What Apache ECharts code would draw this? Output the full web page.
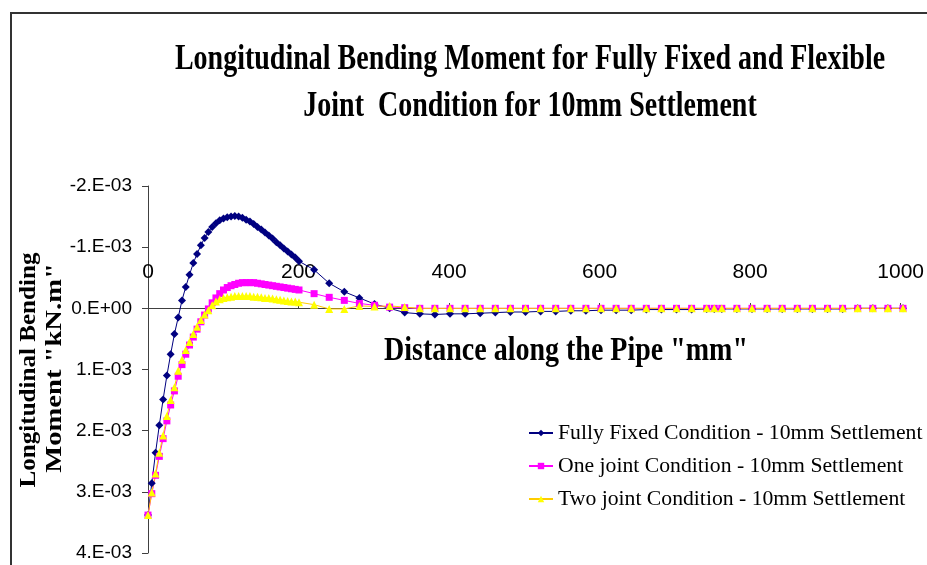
<!DOCTYPE html>
<html>
<head>
<meta charset="utf-8">
<script src="https://cdn.jsdelivr.net/npm/echarts@6/dist/echarts.min.js"></script>
<style>
  html, body { margin: 0; padding: 0; background: #fff; }
  #chart { width: 927px; height: 565px; }
</style>
</head>
<body>
<div id="chart"></div>
<script>
// distance along the pipe (mm)
const distance = [
  0, 5, 10, 15, 20, 25, 30, 35, 40, 45, 50, 55, 60, 65, 70, 75, 80, 85, 90, 95, 100,
  105, 110, 115, 120, 125, 130, 135, 140, 145, 150, 155, 160, 165, 170, 175, 180, 185, 190, 195, 200,
  220, 240, 260, 280, 300, 320, 340, 360, 380, 400, 420, 440, 460, 480, 500,
  520, 540, 560, 580, 600, 620, 640, 660, 680, 700, 720, 740, 750, 760, 780, 800,
  820, 840, 860, 880, 900, 920, 940, 960, 980, 1000
]

// bending moment, in units of 1E-03 kN.m
const fullyFixed = [
  3.38, 2.86, 2.36, 1.91, 1.49, 1.10, 0.75, 0.42, 0.15, -0.13, -0.35, -0.55, -0.74, -0.89, -1.03, -1.15, -1.25, -1.33, -1.39, -1.44, -1.47,
  -1.49, -1.50, -1.51, -1.50, -1.48, -1.45, -1.42, -1.38, -1.33, -1.29, -1.24, -1.19, -1.14, -1.08, -1.03, -0.98, -0.93, -0.88, -0.83, -0.77,
  -0.63, -0.41, -0.27, -0.17, -0.07, 0.00, 0.07, 0.09, 0.10, 0.09, 0.09, 0.08, 0.07, 0.06, 0.06,
  0.05, 0.05, 0.04, 0.04, 0.03, 0.03, 0.03, 0.02, 0.02, 0.02, 0.02, 0.01, 0.01, 0.01, 0.01, 0.01,
  0.01, 0.01, 0.01, 0.01, 0.01, 0.01, 0.00, 0.00, 0.00, 0.00
]

const oneJoint = [
  3.38, 3.03, 2.73, 2.42, 2.13, 1.84, 1.58, 1.35, 1.11, 0.92, 0.75, 0.60, 0.47, 0.34, 0.22, 0.11, 0.01, -0.09, -0.17, -0.24, -0.30,
  -0.34, -0.37, -0.39, -0.41, -0.42, -0.42, -0.42, -0.42, -0.41, -0.40, -0.39, -0.38, -0.37, -0.36, -0.35, -0.34, -0.33, -0.32, -0.31, -0.30,
  -0.24, -0.18, -0.13, -0.08, -0.05, -0.02, -0.01, 0.00, 0.00, 0.00, 0.00, 0.00, 0.00, 0.00, 0.00,
  0.00, 0.00, 0.00, 0.00, 0.00, 0.00, 0.00, 0.00, 0.00, 0.00, 0.00, 0.00, 0.00, 0.00, 0.00, 0.00,
  0.00, 0.00, 0.00, 0.00, 0.00, 0.00, 0.00, 0.00, 0.00, 0.00
]

const twoJoint = [
  3.38, 3.01, 2.70, 2.36, 2.08, 1.76, 1.50, 1.29, 1.02, 0.84, 0.68, 0.55, 0.42, 0.30, 0.19, 0.10, 0.03, -0.05, -0.11, -0.15, -0.17,
  -0.18, -0.19, -0.20, -0.20, -0.20, -0.20, -0.20, -0.19, -0.19, -0.18, -0.17, -0.17, -0.16, -0.15, -0.14, -0.13, -0.12, -0.11, -0.11, -0.10,
  -0.06, 0.01, 0.01, -0.04, -0.03, -0.04, -0.02, 0.00, 0.00, 0.00, 0.00, 0.00, 0.00, 0.00, 0.00,
  0.00, 0.00, 0.00, 0.00, 0.00, 0.00, 0.00, 0.00, 0.00, 0.00, 0.00, 0.00, 0.00, 0.00, 0.00, 0.00,
  0.00, 0.00, 0.00, 0.00, 0.00, 0.00, 0.00, 0.00, 0.00, 0.00
]

const seriesNames = [
  'Fully Fixed Condition - 10mm Settlement',
  'One joint Condition - 10mm Settlement',
  'Two joint Condition - 10mm Settlement'
]

const pairs = (ys) => distance.map((x, i) => [x, ys[i]])

const serif = '"Liberation Serif", "Times New Roman", serif'
const sans = '"Liberation Sans", Arial, sans-serif'

const chart = echarts.init(document.getElementById('chart'))

const boldText = (text, x, y, size, opts) => Object.assign({
  type: 'text',
  x: x,
  y: y,
  silent: true,
  style: {
    text: text,
    font: 'bold ' + size + 'px ' + serif,
    fill: '#000',
    align: 'center',
    verticalAlign: 'middle',
    textAlign: 'center',
    textVerticalAlign: 'middle'
  }
}, opts)

chart.setOption({
  animation: false,
  backgroundColor: '#fff',
  grid: [
    { left: 148, right: 24, top: 186, bottom: 12, containLabel: false },
    // thin grid sitting on the zero line, carries the distance labels above it
    { left: 148, right: 24, top: 308, height: 1, containLabel: false }
  ],
  legend: {
    orient: 'vertical',
    left: 523,
    top: 417,
    itemGap: 11,
    itemWidth: 24,
    itemHeight: 8,
    textStyle: { fontFamily: serif, fontSize: 21.7, color: '#000' },
    data: seriesNames
  },
  xAxis: [
    {
      type: 'value',
      gridIndex: 0,
      min: 0,
      max: 1000,
      interval: 200,
      axisLine: { onZero: true, lineStyle: { color: '#404040', width: 1 } },
      axisTick: { show: false },
      axisLabel: { show: false },
      splitLine: { show: false }
    },
    {
      type: 'value',
      gridIndex: 1,
      position: 'top',
      min: 0,
      max: 1000,
      interval: 200,
      axisLine: { show: false, onZero: false },
      axisTick: { show: true, length: 5, lineStyle: { color: '#404040' } },
      axisLabel: { margin: 25, fontFamily: sans, fontSize: 21, color: '#000', formatter: (v) => String(v) },
      splitLine: { show: false }
    }
  ],
  yAxis: [
    {
      type: 'value',
      gridIndex: 0,
      inverse: true,
      min: -2,
      max: 4,
      interval: 1,
      axisLine: { show: true, onZero: false, lineStyle: { color: '#404040', width: 1 } },
      axisTick: { show: true, length: 6, lineStyle: { color: '#404040' } },
      axisLabel: {
        margin: 16,
        fontFamily: sans,
        fontSize: 19,
        color: '#000',
        formatter: (v) => (v === 0 ? '0.E+00' : v + '.E-03')
      },
      splitLine: { show: false }
    },
    {
      type: 'value',
      gridIndex: 1,
      show: false
    }
  ],
  series: [
    {
      name: seriesNames[0],
      type: 'line',
      data: pairs(fullyFixed),
      symbol: 'diamond',
      symbolSize: 8,
      color: '#000080',
      lineStyle: { color: '#000080', width: 1 },
      itemStyle: { color: '#000080' }
    },
    {
      name: seriesNames[1],
      type: 'line',
      data: pairs(oneJoint),
      symbol: 'rect',
      symbolSize: 7,
      color: '#FF00FF',
      lineStyle: { color: '#FF00FF', width: 1 },
      itemStyle: { color: '#FF00FF' }
    },
    {
      name: seriesNames[2],
      type: 'line',
      data: pairs(twoJoint),
      symbol: 'triangle',
      symbolSize: 8,
      color: '#FFFF00',
      lineStyle: { color: '#FFCC00', width: 1 },
      itemStyle: { color: '#FFFF00' }
    }
  ],
  graphic: [
    {
      type: 'rect',
      silent: true,
      shape: { x: 11, y: 13, width: 1000, height: 1000 },
      style: { fill: 'none', stroke: '#333', lineWidth: 2 }
    },
    boldText('Longitudinal Bending Moment for Fully Fixed and Flexible', 530, 60, 28, { scaleY: 1.3 }),
    boldText('Joint  Condition for 10mm Settlement', 530, 107, 28, { scaleY: 1.3 }),
    boldText('Distance along the Pipe "mm"', 566, 352, 28, { scaleY: 1.17 }),
    boldText('Longitudinal Bending', 29, 370, 22, { rotation: Math.PI / 2, scaleX: 1.14, scaleY: 1.07 }),
    boldText('Moment "kN.m"', 55, 368, 22, { rotation: Math.PI / 2, scaleX: 1.3, scaleY: 1.07 })
  ]
})
</script>
</body>
</html>
